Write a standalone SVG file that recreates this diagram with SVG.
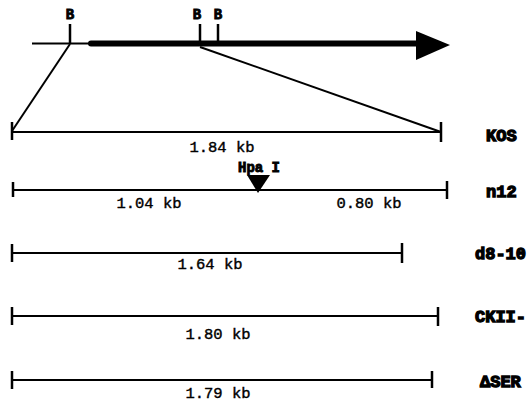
<svg xmlns="http://www.w3.org/2000/svg" width="531" height="402" viewBox="0 0 531 402">
<style>
.ln{stroke:#000;stroke-width:2;fill:none}
.tk{stroke:#000;stroke-width:2.5;fill:none}
.kb{font-family:"Liberation Mono","DejaVu Sans Mono",monospace;font-size:15.5px;fill:#000;stroke:#000;stroke-width:0.4;text-anchor:middle}
.nm{font-family:"Liberation Mono","DejaVu Sans Mono",monospace;font-size:17px;font-weight:bold;fill:#000;stroke:#000;stroke-width:1.3;text-anchor:start}
.b{font-family:"Liberation Mono","DejaVu Sans Mono",monospace;font-size:14px;font-weight:bold;fill:#000;stroke:#000;stroke-width:0.9;text-anchor:middle}
</style>
<rect width="531" height="402" fill="#fff"/>
<g id="gene">
<line class="ln" x1="32" y1="43.5" x2="92" y2="43.5"/>
<line x1="91" y1="43.5" x2="418" y2="43.5" stroke="#000" stroke-width="6" stroke-linecap="round"/>
<polygon points="416,31 450,45 416,60" fill="#000"/>
<line class="tk" x1="70" y1="24" x2="70" y2="44"/>
<line class="tk" x1="200" y1="24" x2="200" y2="44"/>
<line class="tk" x1="218" y1="24" x2="218" y2="44"/>
<text class="b" x="70" y="19">B</text>
<text class="b" x="197" y="19">B</text>
<text class="b" x="218" y="19">B</text>
</g>
<g id="connectors">
<line class="ln" stroke-width="1.5" x1="70" y1="44" x2="12" y2="131"/>
<line class="ln" stroke-width="1.5" x1="200" y1="47" x2="441" y2="132"/>
</g>
<g id="kos">
<line class="ln" x1="12" y1="132" x2="441" y2="132"/>
<line class="tk" x1="12" y1="122" x2="12" y2="140"/>
<line class="tk" x1="441" y1="122" x2="441" y2="142"/>
<text class="kb" x="222" y="152">1.84 kb</text>
<text class="nm" x="486" y="141">KOS</text>
</g>
<g id="n12">
<line class="ln" x1="13" y1="190" x2="447" y2="190"/>
<line class="tk" x1="13" y1="182" x2="13" y2="197"/>
<line class="tk" x1="447" y1="181" x2="447" y2="199"/>
<polygon points="247,175 270,175 258,193" fill="#000"/>
<text class="b" x="259" y="172">Hpa I</text>
<text class="kb" x="149" y="208">1.04 kb</text>
<text class="kb" x="369" y="208">0.80 kb</text>
<text class="nm" x="486" y="197">n12</text>
</g>
<g id="d8-10">
<line class="ln" x1="12" y1="253" x2="402" y2="253"/>
<line class="tk" x1="12" y1="244" x2="12" y2="262"/>
<line class="tk" x1="402" y1="243" x2="402" y2="263"/>
<text class="kb" x="210" y="269">1.64 kb</text>
<text class="nm" x="475" y="259">d8-10</text>
</g>
<g id="ckii">
<line class="ln" x1="12" y1="316" x2="438" y2="316"/>
<line class="tk" x1="12" y1="307" x2="12" y2="325"/>
<line class="tk" x1="438" y1="307" x2="438" y2="326"/>
<text class="kb" x="218" y="339">1.80 kb</text>
<text class="nm" x="475" y="322">CKII-</text>
</g>
<g id="dser">
<line class="ln" x1="12" y1="380" x2="432" y2="380"/>
<line class="tk" x1="12" y1="371" x2="12" y2="389"/>
<line class="tk" x1="432" y1="371" x2="432" y2="388"/>
<text class="kb" x="218" y="398">1.79 kb</text>
<text class="nm" x="480" y="387">ΔSER</text>
</g>
</svg>
